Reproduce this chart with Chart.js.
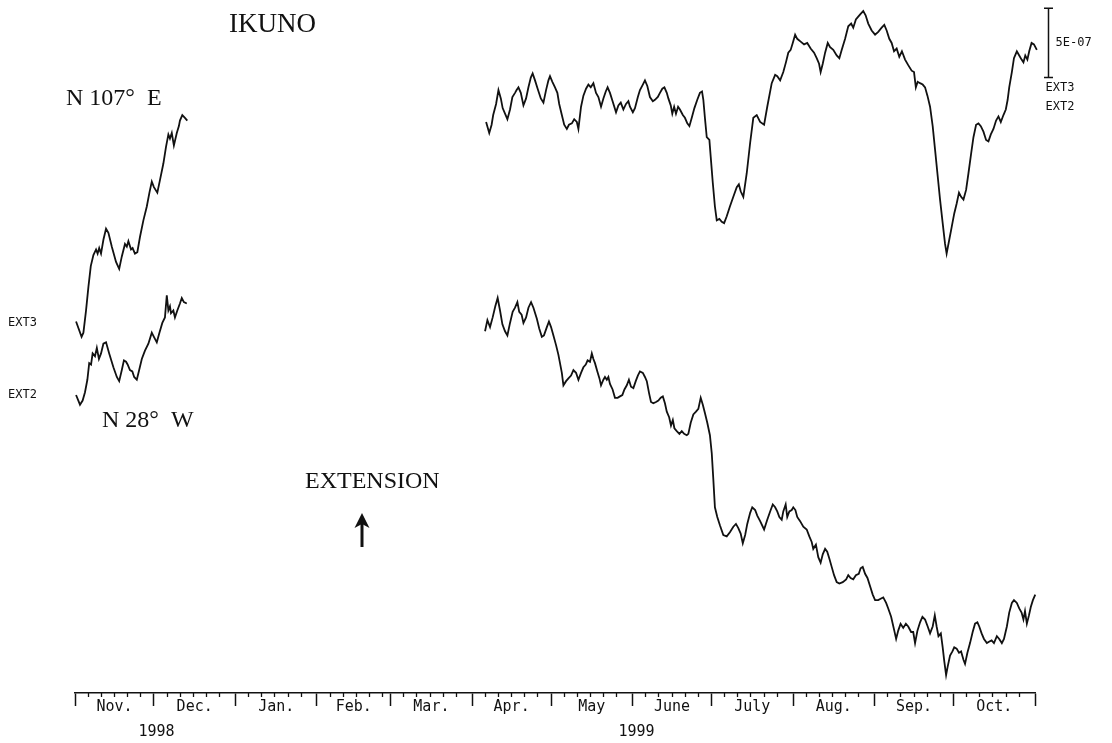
<!DOCTYPE html>
<html>
<head>
<meta charset="utf-8">
<title>IKUNO extension strain</title>
<script src="https://cdn.jsdelivr.net/npm/chart.js@4.4.1/dist/chart.umd.min.js"></script>
<style>
  html, body { margin: 0; padding: 0; background: #ffffff; }
  canvas { display: block; }
</style>
</head>
<body>
<canvas id="strain" width="1112" height="743"></canvas>
<script>
// Extensometer record, Ikuno: two components, Nov 1998 - Oct 1999.
// x = days since 1 Nov 1998, y = strain in units of 1e-8 (each trace has its own offset).

const stationName = 'IKUNO';
const componentNames = ['EXT3', 'EXT2'];
const azimuthLabels = ['N 107°  E', 'N 28°  W'];
const extensionLabel = 'EXTENSION';

const monthNames = ['Nov.', 'Dec.', 'Jan.', 'Feb.', 'Mar.', 'Apr.', 'May', 'June', 'July', 'Aug.', 'Sep.', 'Oct.'];
const monthLengths = [30, 31, 31, 28, 31, 30, 31, 30, 31, 31, 30, 31];
const minorTickOffsets = [5, 10, 15, 20, 25];
const yearLabels = ['1998', '1999'];
const yearLabelDays = [31, 213.5];

// scale bar: 5E-07 = 50 units of 1e-8
const scaleBarLabel = '5E-07';
const scaleBarDay = 370;
const scaleBarBase = 444;
const scaleBarSpan = 50;

// EXT3 (N 107 E), late 1998
const ext3Days1998 = [0.4, 2.5, 3.2, 4.2, 5.1, 6.0, 7.0, 8.0, 8.6, 9.2,
  9.9, 10.8, 11.8, 12.7, 14.0, 15.6, 16.8, 17.8, 19.0, 19.7,
  20.3, 21.3, 21.9, 22.8, 23.7, 24.7, 26.0, 27.3, 28.3, 29.2,
  30.0, 31.3, 32.3, 33.6, 34.6, 35.5, 36.1, 36.8, 37.6, 38.7,
  39.5, 39.9, 40.8, 41.8, 42.7];
const ext3Strain1998 = [268, 257, 260, 276, 293, 308, 316, 320, 317, 321,
  317, 327, 335, 332, 322, 311, 306, 315, 324, 322,
  326, 320, 321, 317, 318, 329, 341, 351, 361, 369,
  365, 361, 370, 382, 394, 403, 400, 404, 395, 404,
  409, 413, 417, 415, 413];

// EXT2 (N 28 W), late 1998
const ext2Days1998 = [0.4, 1.9, 2.9, 3.8, 4.7, 5.4, 6.1, 6.7, 7.6, 8.3,
  9.1, 9.9, 10.8, 11.8, 13.0, 14.6, 15.9, 16.8, 17.8, 18.6,
  19.4, 20.0, 20.9, 21.8, 22.5, 23.5, 24.4, 25.4, 26.6, 27.9,
  29.2, 30.0, 31.1, 32.1, 33.2, 34.2, 34.9, 35.5, 36.1, 36.5,
  37.4, 38.0, 38.9, 39.9, 40.6, 41.4, 42.5];
const ext2Strain1998 = [215, 208, 211, 217, 226, 238, 237, 245, 243, 249,
  241, 245, 252, 253, 245, 235, 228, 225, 233, 240,
  239, 237, 233, 232, 228, 226, 233, 241, 247, 252,
  260, 257, 253, 260, 267, 271, 287, 276, 279, 274,
  276, 271, 276, 281, 285, 282, 281];

// EXT3, April - October 1999
const ext3Days1999 = [156.3, 157.5, 158.4, 159.0, 160.1, 161.0, 161.9, 162.6, 163.5, 164.4,
  165.4, 166.3, 167.3, 167.9, 168.6, 169.5, 170.5, 171.5, 172.4, 173.3,
  174.0, 174.9, 175.9, 177.1, 178.1, 179.1, 180.0, 180.6, 181.5, 182.5,
  183.4, 184.1, 185.1, 186.0, 187.0, 187.8, 188.9, 189.8, 190.8, 191.4,
  192.4, 193.3, 194.3, 195.2, 196.1, 197.1, 198.1, 199.0, 200.0, 200.9,
  201.8, 202.5, 203.4, 204.4, 205.7, 206.6, 207.5, 208.5, 209.5, 210.4,
  211.0, 212.1, 212.9, 214.0, 214.8, 215.9, 216.7, 217.6, 218.6, 219.7,
  220.5, 221.6, 222.4, 223.3, 224.1, 225.0, 225.6, 226.5, 227.1, 227.8,
  228.5, 229.3, 230.0, 231.1, 231.9, 232.8, 233.6, 234.5, 235.5, 236.6,
  237.6, 238.4, 238.9, 239.5, 240.2, 241.2, 241.7, 242.5, 243.3, 244.0,
  245.0, 245.9, 246.8, 247.8, 249.0, 250.3, 251.6, 252.4, 253.1, 254.1,
  255.4, 256.7, 257.9, 259.2, 260.5, 262.0, 263.2, 264.9, 266.2, 267.0,
  268.1, 269.3, 270.3, 271.2, 272.1, 272.9, 273.8, 274.6, 275.9, 277.2,
  278.4, 279.7, 281.0, 282.0, 282.9, 283.5, 284.3, 285.2, 286.2, 287.1,
  288.3, 289.6, 290.6, 291.5, 292.8, 294.0, 295.1, 295.9, 296.9, 297.8,
  298.7, 299.7, 300.6, 301.6, 302.9, 304.2, 305.4, 306.7, 307.7, 308.6,
  309.6, 310.5, 311.4, 312.4, 313.4, 314.4, 315.6, 316.8, 318.1, 319.0,
  319.7, 320.4, 321.3, 322.3, 323.2, 324.1, 325.1, 326.1, 327.0, 328.0,
  328.9, 329.9, 330.8, 331.4, 332.4, 333.3, 334.3, 335.2, 336.1, 336.9,
  337.8, 338.8, 339.7, 340.7, 341.6, 342.6, 343.5, 344.4, 345.4, 346.4,
  347.3, 348.2, 349.2, 350.2, 351.1, 352.0, 353.0, 353.9, 354.6, 355.2,
  356.2, 357.0, 358.1, 359.0, 359.9, 360.6, 361.3, 362.1, 362.8, 363.7,
  364.6, 365.7, 366.5];
const ext3Strain1999 = [412, 404, 410, 417, 425, 435, 429, 422, 418, 414,
  421, 430, 433, 435, 437, 433, 424, 429, 437, 444,
  447, 442, 436, 429, 426, 435, 442, 445, 441, 437,
  433, 425, 417, 410, 407, 410, 411, 414, 412, 407,
  423, 431, 436, 439, 437, 440, 433, 430, 423, 429,
  434, 437, 433, 427, 419, 424, 426, 421, 425, 427,
  423, 419, 422, 430, 435, 439, 442, 438, 430, 427,
  428, 430, 433, 436, 437, 433, 429, 424, 418, 423,
  418, 423, 421, 417, 415, 411, 409, 415, 422, 428,
  433, 434, 428, 415, 401, 399, 387, 368, 351, 341,
  342, 340, 339, 344, 351, 358, 365, 367, 362, 358,
  375, 397, 415, 417, 412, 410, 423, 440, 446, 445,
  442, 448, 455, 462, 464, 469, 475, 472, 470, 468,
  469, 465, 462, 458, 454, 448, 454, 462, 469, 466,
  464, 460, 458, 464, 472, 481, 483, 480, 486, 488,
  490, 492, 489, 483, 478, 475, 477, 480, 482, 478,
  472, 469, 463, 465, 459, 463, 457, 453, 449, 448,
  437, 441, 440, 439, 437, 431, 423, 409, 392, 373,
  356, 339, 324, 317, 327, 336, 346, 353, 361, 358,
  356, 363, 375, 389, 401, 410, 411, 409, 405, 399,
  398, 403, 407, 413, 416, 412, 417, 421, 428, 437,
  448, 458, 463, 460, 457, 455, 460, 457, 463, 469,
  468, 464, 457];

// EXT2, April - October 1999
const ext2Days1999 = [155.9, 156.8, 157.8, 158.8, 159.8, 160.7, 161.6, 162.5, 163.5, 164.4,
  165.4, 166.4, 167.3, 168.2, 168.9, 169.8, 170.5, 171.5, 172.4, 173.4,
  174.3, 175.6, 176.5, 177.5, 178.3, 179.4, 180.2, 181.0, 181.9, 182.9,
  183.8, 184.4, 185.1, 185.7, 186.7, 187.6, 188.6, 189.5, 190.5, 191.4,
  192.4, 193.3, 194.2, 194.9, 195.8, 196.5, 197.1, 197.7, 198.6, 199.4,
  200.0, 200.9, 201.5, 202.2, 202.8, 203.4, 204.4, 205.3, 206.3, 207.2,
  208.1, 208.9, 209.8, 210.6, 211.4, 212.3, 213.2, 214.0, 214.8, 215.9,
  216.7, 217.4, 218.3, 219.0, 219.9, 220.9, 221.8, 222.7, 223.5, 224.3,
  225.0, 225.9, 226.6, 227.3, 227.9, 228.8, 229.8, 230.7, 231.6, 232.6,
  233.2, 234.1, 235.1, 236.1, 237.0, 237.9, 238.7, 239.5, 240.4, 241.4,
  242.1, 242.7, 243.3, 244.2, 245.2, 246.5, 247.8, 249.0, 250.3, 251.3,
  252.2, 253.1, 253.9, 254.8, 255.6, 256.7, 257.5, 258.6, 259.4, 260.5,
  262.0, 263.2, 264.3, 265.3, 266.2, 267.0, 267.8, 268.7, 269.3, 270.2,
  270.8, 271.6, 272.5, 273.1, 273.9, 274.6, 275.7, 276.9, 278.2, 279.2,
  280.1, 280.7, 281.7, 282.6, 283.5, 284.3, 285.2, 286.0, 286.8, 287.7,
  288.6, 289.6, 290.6, 291.9, 293.2, 294.0, 294.9, 295.9, 296.9, 298.0,
  298.7, 299.5, 300.4, 301.3, 302.3, 303.3, 304.2, 305.4, 306.3, 307.3,
  308.4, 309.2, 310.3, 310.9, 311.5, 312.2, 313.0, 313.9, 314.9, 315.9,
  316.8, 317.9, 318.7, 319.4, 320.3, 321.3, 322.2, 323.2, 324.2, 325.1,
  326.1, 326.9, 327.6, 328.3, 329.2, 329.9, 330.5, 331.2, 331.8, 332.7,
  333.6, 334.3, 335.2, 336.1, 336.9, 337.8, 338.4, 339.3, 340.3, 341.3,
  342.2, 343.1, 343.8, 344.7, 345.6, 346.7, 347.5, 348.5, 349.4, 350.5,
  351.4, 352.4, 353.2, 354.3, 355.2, 356.2, 357.0, 358.1, 359.0, 359.9,
  360.6, 361.2, 361.9, 362.7, 363.4, 364.2, 365.1, 366.0];
const ext2Strain1999 = [261, 269, 264, 271, 279, 285, 276, 266, 261, 258,
  267, 275, 278, 282, 275, 273, 267, 271, 278, 282,
  278, 270, 263, 257, 258, 264, 268, 264, 258, 251,
  244, 238, 231, 222, 225, 227, 229, 233, 231, 226,
  231, 235, 237, 240, 239, 245, 241, 238, 232, 227,
  222, 226, 228, 226, 228, 223, 219, 213, 213, 214,
  215, 219, 222, 226, 221, 220, 225, 229, 232, 231,
  228, 225, 216, 210, 209, 210, 211, 213, 214, 209,
  203, 199, 193, 197, 191, 189, 187, 189, 187, 186,
  187, 195, 201, 203, 205, 213, 208, 202, 195, 186,
  173, 154, 134, 127, 121, 114, 113, 116, 120, 122,
  119, 115, 108, 114, 122, 130, 134, 132, 128, 124,
  118, 125, 131, 136, 134, 131, 127, 125, 131, 136,
  127, 131, 132, 134, 132, 127, 124, 120, 118, 113,
  109, 104, 107, 98, 94, 100, 104, 102, 97, 91,
  85, 80, 79, 80, 82, 85, 83, 82, 85, 86,
  90, 91, 86, 83, 77, 71, 67, 67, 68, 69,
  65, 61, 55, 50, 45, 39, 45, 50, 47, 50,
  48, 44, 44, 36, 45, 51, 55, 53, 48, 43,
  48, 56, 48, 41, 43, 33, 23, 13, 19, 27,
  30, 33, 32, 29, 30, 24, 21, 29, 36, 44,
  50, 51, 48, 43, 39, 36, 37, 38, 36, 41,
  39, 36, 39, 48, 58, 65, 67, 65, 61, 58,
  53, 59, 50, 56, 62, 67, 71, 65];

const INK = '#111111';

// month geometry on the day axis
const monthStarts = [];
const recordLength = monthLengths.reduce((acc, len) => { monthStarts.push(acc); return acc + len; }, 0);
const monthBounds = [...monthStarts, recordLength];
const monthMids = monthStarts.map((s, i) => s + monthLengths[i] / 2);
const minorTicks = [];
monthStarts.forEach(s => minorTickOffsets.forEach(o => minorTicks.push(s + o)));

function toPoints(days, values) {
  return days.map((d, i) => ({ x: d, y: values[i] }));
}
function withGap(a, b) {
  // null point breaks the trace across the unrecorded winter months
  return [...a, { x: (a[a.length - 1].x + b[0].x) / 2, y: null }, ...b];
}

const ext3Series = withGap(toPoints(ext3Days1998, ext3Strain1998), toPoints(ext3Days1999, ext3Strain1999));
const ext2Series = withGap(toPoints(ext2Days1998, ext2Strain1998), toPoints(ext2Days1999, ext2Strain1999));

const annotations = {
  id: 'annotations',
  afterDraw(chart) {
    const { ctx } = chart;
    const x = chart.scales.x;
    const y = chart.scales.y;
    ctx.save();
    ctx.fillStyle = INK;
    ctx.strokeStyle = INK;

    // headings
    ctx.textAlign = 'left';
    ctx.textBaseline = 'alphabetic';
    ctx.font = '27px "Liberation Serif"';
    ctx.fillText(stationName, 229, 32);
    ctx.font = '24px "Liberation Serif"';
    ctx.fillText(azimuthLabels[0], 66, 105);
    ctx.fillText(azimuthLabels[1], 102, 427);
    ctx.fillText(extensionLabel, 305, 488);

    // "extension is up" arrow
    const ax = 362;
    ctx.lineWidth = 3;
    ctx.beginPath();
    ctx.moveTo(ax, 547);
    ctx.lineTo(ax, 522);
    ctx.stroke();
    ctx.beginPath();
    ctx.moveTo(ax, 513);
    ctx.lineTo(ax + 7.5, 528);
    ctx.lineTo(ax, 524);
    ctx.lineTo(ax - 7.5, 528);
    ctx.closePath();
    ctx.fill();

    // component tags beside the start of each trace
    ctx.font = '12px "DejaVu Sans Mono"';
    ctx.textBaseline = 'middle';
    ctx.fillText(componentNames[0], 8, y.getPixelForValue(ext3Strain1998[0]) + 1);
    ctx.fillText(componentNames[1], 8, y.getPixelForValue(ext2Strain1998[0]));

    // strain scale bar
    const bx = Math.round(x.getPixelForValue(scaleBarDay)) + 0.5;
    const yTop = y.getPixelForValue(scaleBarBase + scaleBarSpan);
    const yBot = y.getPixelForValue(scaleBarBase);
    ctx.lineWidth = 1.5;
    ctx.beginPath();
    ctx.moveTo(bx, yTop); ctx.lineTo(bx, yBot);
    ctx.moveTo(bx - 4.5, yTop); ctx.lineTo(bx + 4.5, yTop);
    ctx.moveTo(bx - 4.5, yBot); ctx.lineTo(bx + 4.5, yBot);
    ctx.stroke();
    ctx.fillText(scaleBarLabel, bx + 7, (yTop + yBot) / 2);
    ctx.fillText(componentNames[0], bx - 3, yBot + 10);
    ctx.fillText(componentNames[1], bx - 3, yBot + 29);
    ctx.restore();
  }
};

const traceStyle = {
  borderColor: INK,
  borderWidth: 1.8,
  pointRadius: 0,
  tension: 0,
  spanGaps: false,
  clip: false
};

new Chart(document.getElementById('strain'), {
  type: 'line',
  data: {
    datasets: [
      { label: componentNames[0], data: ext3Series, ...traceStyle },
      { label: componentNames[1], data: ext2Series, ...traceStyle }
    ]
  },
  options: {
    responsive: false,
    animation: false,
    devicePixelRatio: 1,
    parsing: true,
    layout: { padding: { left: 75, right: 77, top: 0, bottom: 0 } },
    plugins: {
      legend: { display: false },
      tooltip: { enabled: false },
      title: { display: false }
    },
    scales: {
      y: { type: 'linear', min: 0, max: 500, display: false },
      x: {
        type: 'linear',
        position: 'bottom',
        weight: 1,
        min: 0,
        max: recordLength,
        afterBuildTicks: scale => {
          scale.ticks = [...monthBounds, ...monthMids].sort((a, b) => a - b).map(v => ({ value: v }));
        },
        afterFit: scale => { scale.height = 25; },
        grid: {
          display: true,
          drawOnChartArea: false,
          drawTicks: true,
          tickLength: 13,
          tickWidth: 1.5,
          tickColor: ctx => (ctx.tick && monthBounds.includes(ctx.tick.value)) ? INK : 'rgba(0,0,0,0)'
        },
        border: { display: true, color: INK, width: 1.5 },
        ticks: {
          autoSkip: false,
          maxRotation: 0,
          minRotation: 0,
          padding: -8,
          color: INK,
          font: { family: 'DejaVu Sans Mono', size: 15 },
          callback: value => {
            const i = monthMids.indexOf(value);
            return i >= 0 ? monthNames[i] : '';
          }
        }
      },
      xMinor: {
        type: 'linear',
        axis: 'x',
        position: 'bottom',
        weight: 0,
        min: 0,
        max: recordLength,
        afterBuildTicks: scale => {
          scale.ticks = minorTicks.map(v => ({ value: v }));
        },
        afterFit: scale => { scale.height = 0; },
        grid: {
          display: true,
          drawOnChartArea: false,
          drawTicks: true,
          tickLength: 4,
          tickWidth: 1.3,
          tickColor: INK
        },
        border: { display: false },
        ticks: { display: false }
      },
      xYear: {
        type: 'linear',
        axis: 'x',
        position: 'bottom',
        weight: 2,
        min: 0,
        max: recordLength,
        afterBuildTicks: scale => {
          scale.ticks = yearLabelDays.map(v => ({ value: v }));
        },
        afterFit: scale => { scale.height = 25; },
        grid: { display: false, drawTicks: false },
        border: { display: false },
        ticks: {
          autoSkip: false,
          maxRotation: 0,
          padding: 5,
          color: INK,
          font: { family: 'DejaVu Sans Mono', size: 15 },
          callback: value => {
            const i = yearLabelDays.indexOf(value);
            return i >= 0 ? yearLabels[i] : '';
          }
        }
      }
    }
  },
  plugins: [annotations]
});
</script>
</body>
</html>
